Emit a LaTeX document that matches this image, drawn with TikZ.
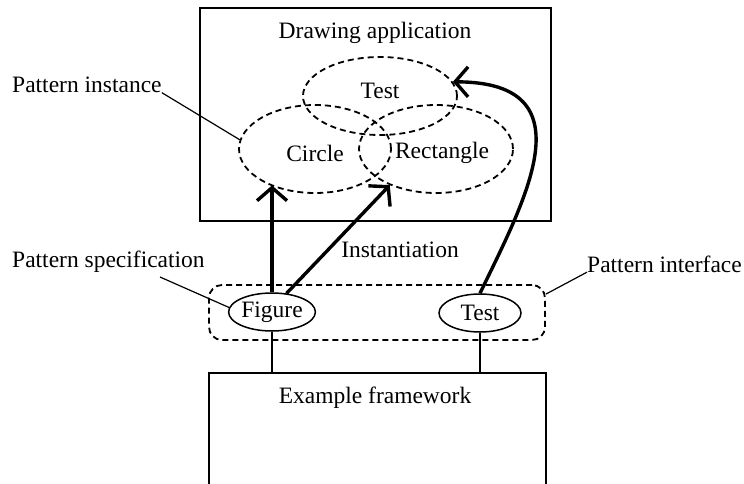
\documentclass[tikz,border=0pt]{standalone}
\usepackage{fontspec}
\setmainfont{Liberation Serif}
\usetikzlibrary{shapes.geometric,arrows.meta,calc}

\tikzset{
  txt/.style={inner sep=0pt, font=\fontsize{23.5}{28}\selectfont},
  box/.style={draw, line width=1.3pt, rectangle, inner sep=0pt},
  inst/.style={draw, ellipse, dash pattern=on 6pt off 4pt, line width=1.8pt, inner sep=0pt},
  spec/.style={draw, ellipse, line width=1.5pt, inner sep=0pt, font=\fontsize{23.5}{28}\selectfont},
  iface/.style={draw, rectangle, rounded corners=13pt, dash pattern=on 6pt off 4pt, line width=1.8pt, inner sep=0pt},
  leader/.style={line width=1.2pt},
  link/.style={line width=1.3pt},
  inst arrow/.style={line width=3.4pt, -{Straight Barb[length=13pt,width=30pt]}},
}

\begin{document}
\begin{tikzpicture}[x=1pt, y=-1pt]
  \useasboundingbox (0,0) rectangle (744,484);

  % drawing application and its pattern instances
  \node[box, minimum width=351pt, minimum height=213pt] (app) at (375.5,114.5) {};
  \node[txt] (apptitle) at (375,33) {Drawing application};
  \node[inst, minimum width=154pt, minimum height=78pt] (ttop) at (380,96) {};
  \node[inst, minimum width=152pt, minimum height=88pt] (circ) at (315,149) {};
  \node[inst, minimum width=154pt, minimum height=88pt] (rect) at (436,149) {};
  \node[txt] (ttoptext) at (380,91) {Test};
  \node[txt] (circtext) at (315,153) {Circle};
  \node[txt] (recttext) at (442,153) {Rectangle};

  % pattern interface of the framework
  \node[iface, minimum width=336pt, minimum height=55pt] (iface) at (377,312.5) {};
  \node[spec, minimum width=80pt, minimum height=38pt] (fig) at (272,312) {Figure};
  \node[spec, minimum width=82pt, minimum height=38pt] (tst) at (480,313) {Test};

  % example framework (open at the bottom)
  \coordinate (fwtl) at (209,373);
  \coordinate (fwtr) at (546,373);
  \draw[link] (209,490) -- (fwtl) -- (fwtr) -- (546,490);
  \node[txt] (fwtitle) at (375,398) {Example framework};
  \draw[link] (fig.south) -- (fig.south |- fwtl);
  \draw[link] (tst.south) -- (tst.south |- fwtl);

  % instantiation arrows
  \draw[inst arrow] (fig.north) -- (fig.north |- circ.219);
  \draw[inst arrow] (fig.52) -- (rect.218);
  \draw[inst arrow] (tst.north) .. controls (525,200) and (590,82) .. (ttop.11);
  \node[txt] (instlbl) at (400,250) {Instantiation};

  % callouts
  \node[txt, anchor=west] (pinst) at (12,85) {Pattern instance};
  \draw[leader] (pinst.base east) -- (circ.173);
  \node[txt, anchor=west] (pspec) at (12,262) {Pattern specification};
  \coordinate (pspecfoot) at (160,277);
  \draw[leader] (pspecfoot) -- (fig.174);
  \node[txt, anchor=west] (pint) at (587,264) {Pattern interface};
  \draw[leader] (pint.base west) -- ($(iface.north east)+(0,10)$);
\end{tikzpicture}
\end{document}
